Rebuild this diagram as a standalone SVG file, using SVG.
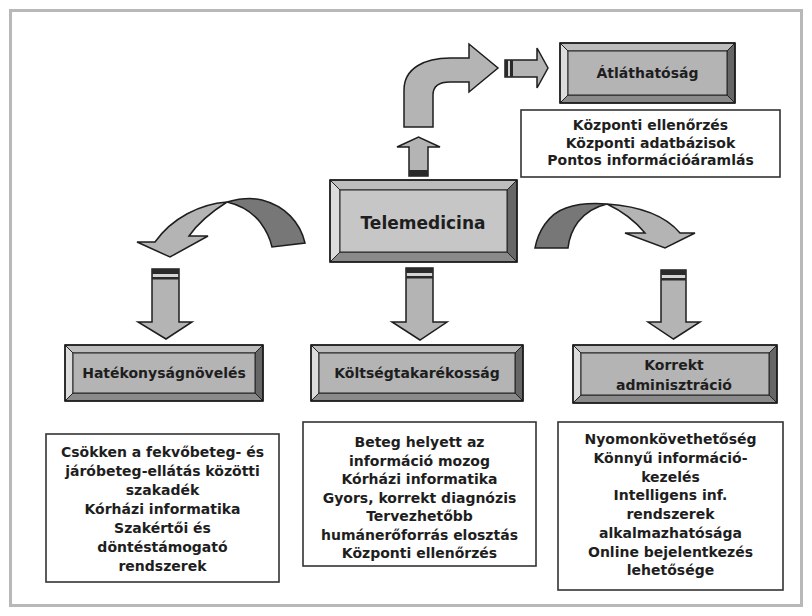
<svg xmlns="http://www.w3.org/2000/svg" width="812" height="616" viewBox="0 0 812 616">
<style>
.bt{fill:#bdbdbd;stroke:#222;stroke-width:1}
.bl{fill:#dcdcdc;stroke:#222;stroke-width:1}
.br{fill:#666;stroke:#222;stroke-width:1}
.bb{fill:#8a8a8a;stroke:#222;stroke-width:1}
.face{fill:#b4b4b4;stroke:#222;stroke-width:1}
.outer{fill:none;stroke:#1a1a1a;stroke-width:1.6}
.tb{fill:#fff;stroke:#333;stroke-width:1.6}
.arr{fill:#b4b4b4;stroke:#1e1e1e;stroke-width:1.5;stroke-linejoin:miter}
.dark{fill:#777;stroke:#1e1e1e;stroke-width:1.5}
.band{fill:#2a2a2a}
.lite{fill:#d4d4d4}
text{font-family:"DejaVu Sans",Verdana,sans-serif;font-weight:bold;fill:#1e1e1e;text-anchor:middle}
.t14{font-size:14px}
.t17{font-size:17px}
</style>
<rect x="10.5" y="10.5" width="791" height="595" fill="#fff" stroke="#b8b8b8" stroke-width="3"/>

<g id="connectors">
  <!-- up arrow from Telemedicina -->
  <path class="arr" d="M409,176 L409,147 L397,147 L418.5,137 L440,147 L428,147 L428,176 Z"/>
  <rect class="band" x="409" y="170" width="19" height="6"/>
  <!-- curved arrow up-right -->
  <path class="arr" d="M404,127 L404,90 C404,68 425,58 450,58 L469,58 L469,44 L498,68 L469,92 L469,82 L450,82 C440,82 433,86 433,95 L433,127 Z"/>
  <!-- small right arrow to Átláthatóság -->
  <path class="arr" d="M505,60 L537,60 L537,48 L548,68 L537,88 L537,77 L505,77 Z"/>
  <rect class="band" x="505" y="60" width="3" height="17"/>
  <rect class="lite" x="508" y="61" width="2" height="15"/>
  <rect class="band" x="510" y="60" width="3" height="17"/>

  <!-- left curved arrow -->
  <path class="dark" d="M305,243 C300,222 285,206 262,200 C250,197 238,199 227,202 C240,205 252,212 260,222 C266,230 270,238 272,247 Z"/>
  <path class="arr" d="M227,202 C200,204 172,218 155,242 L137,242 L170,257 L208,236 L189,236 C196,226 208,214 227,202 Z"/>

  <!-- right curved arrow -->
  <path class="dark" d="M535,248 C538,232 548,214 566,208 C580,203 594,203 607,204 C594,207 585,213 578,222 C572,230 569,239 568,248 Z"/>
  <path class="arr" d="M607,204 C636,206 664,214 680,233 L695,233 L665,248 L625,233 L645,233 C636,222 624,212 607,204 Z"/>

  <!-- left down arrow -->
  <path class="arr" d="M152,269 L179,269 L179,322 L192,322 L166,339 L138,322 L152,322 Z"/>
  <rect class="band" x="152" y="269" width="27" height="5"/>
  <rect class="lite" x="153" y="274" width="25" height="3"/>
  <rect class="band" x="152" y="277" width="27" height="2.5"/>

  <!-- center down arrow -->
  <path class="arr" d="M406,268 L433,268 L433,322 L447,322 L420,340 L392,322 L406,322 Z"/>
  <rect class="band" x="406" y="268" width="27" height="5"/>
  <rect class="lite" x="407" y="273" width="25" height="3"/>
  <rect class="band" x="406" y="276" width="27" height="2.5"/>

  <!-- right down arrow -->
  <path class="arr" d="M661,270 L686,270 L686,322 L700,322 L673.5,339 L648,322 L661,322 Z"/>
  <rect class="band" x="661" y="270" width="25" height="5"/>
  <rect class="lite" x="662" y="275" width="23" height="3"/>
  <rect class="band" x="661" y="278" width="25" height="2.5"/>
</g>

<g id="telemedicina">
  <polygon class="bt" points="330,180 517,180 507,190 340,190"/>
  <polygon class="bl" points="330,180 340,190 340,252 330,262"/>
  <polygon class="br" points="517,180 517,262 507,252 507,190"/>
  <polygon class="bb" points="330,262 517,262 507,252 340,252"/>
  <rect x="340" y="190" width="167" height="62" fill="#c6c6c6" stroke="#222" stroke-width="1"/>
  <rect class="outer" x="330" y="180" width="187" height="82"/>
  <text class="t17" x="423" y="229">Telemedicina</text>
</g>

<g id="atlathatosag">
  <polygon class="bt" points="560,43 735,43 727,51 568,51"/>
  <polygon class="bl" points="560,43 568,51 568,95 560,103"/>
  <polygon class="br" points="735,43 735,103 727,95 727,51"/>
  <polygon class="bb" points="560,103 735,103 727,95 568,95"/>
  <rect class="face" x="568" y="51" width="159" height="44"/>
  <rect class="outer" x="560" y="43" width="175" height="60"/>
  <text class="t14" x="647.5" y="78">Átláthatóság</text>
</g>

<g id="atlathatosag-info">
  <rect class="tb" x="521" y="110" width="259" height="67"/>
  <text class="t14" x="650.5" y="130">Központi ellenőrzés</text>
  <text class="t14" x="650.5" y="148">Központi adatbázisok</text>
  <text class="t14" x="650.5" y="165">Pontos információáramlás</text>
</g>

<g id="hatekonysag">
  <polygon class="bt" points="65,345 263,345 255,353 73,353"/>
  <polygon class="bl" points="65,345 73,353 73,393 65,401"/>
  <polygon class="br" points="263,345 263,401 255,393 255,353"/>
  <polygon class="bb" points="65,401 263,401 255,393 73,393"/>
  <rect class="face" x="73" y="353" width="182" height="40"/>
  <rect class="outer" x="65" y="345" width="198" height="56"/>
  <text class="t14" x="164" y="378">Hatékonyságnövelés</text>
</g>

<g id="koltseg">
  <polygon class="bt" points="311,345 523,345 515,353 319,353"/>
  <polygon class="bl" points="311,345 319,353 319,393 311,401"/>
  <polygon class="br" points="523,345 523,401 515,393 515,353"/>
  <polygon class="bb" points="311,401 523,401 515,393 319,393"/>
  <rect class="face" x="319" y="353" width="196" height="40"/>
  <rect class="outer" x="311" y="345" width="212" height="56"/>
  <text class="t14" x="417" y="378">Költségtakarékosság</text>
</g>

<g id="korrekt">
  <polygon class="bt" points="573,345 777,345 769,353 581,353"/>
  <polygon class="bl" points="573,345 581,353 581,395 573,403"/>
  <polygon class="br" points="777,345 777,403 769,395 769,353"/>
  <polygon class="bb" points="573,403 777,403 769,395 581,395"/>
  <rect class="face" x="581" y="353" width="188" height="42"/>
  <rect class="outer" x="573" y="345" width="204" height="58"/>
  <text class="t14" x="674" y="370">Korrekt</text>
  <text class="t14" x="674" y="390">adminisztráció</text>
</g>

<g id="hatekonysag-info">
  <rect class="tb" x="46" y="434" width="233" height="148"/>
  <text class="t14" x="162.5" y="457">Csökken a fekvőbeteg- és</text>
  <text class="t14" x="162.5" y="476">járóbeteg-ellátás közötti</text>
  <text class="t14" x="162.5" y="495">szakadék</text>
  <text class="t14" x="162.5" y="514">Kórházi informatika</text>
  <text class="t14" x="162.5" y="533">Szakértői és</text>
  <text class="t14" x="162.5" y="552">döntéstámogató</text>
  <text class="t14" x="162.5" y="571">rendszerek</text>
</g>

<g id="koltseg-info">
  <rect class="tb" x="303" y="422" width="233" height="144"/>
  <text class="t14" x="419.5" y="447">Beteg helyett az</text>
  <text class="t14" x="419.5" y="465.5">információ mozog</text>
  <text class="t14" x="419.5" y="484">Kórházi informatika</text>
  <text class="t14" x="419.5" y="502.5">Gyors, korrekt diagnózis</text>
  <text class="t14" x="419.5" y="521">Tervezhetőbb</text>
  <text class="t14" x="419.5" y="539.5">humánerőforrás elosztás</text>
  <text class="t14" x="419.5" y="558">Központi ellenőrzés</text>
</g>

<g id="korrekt-info">
  <rect class="tb" x="558" y="422" width="225" height="168"/>
  <text class="t14" x="670.5" y="444">Nyomonkövethetőség</text>
  <text class="t14" x="670.5" y="463">Könnyű információ-</text>
  <text class="t14" x="670.5" y="482">kezelés</text>
  <text class="t14" x="670.5" y="500">Intelligens inf.</text>
  <text class="t14" x="670.5" y="519">rendszerek</text>
  <text class="t14" x="670.5" y="538">alkalmazhatósága</text>
  <text class="t14" x="670.5" y="557">Online bejelentkezés</text>
  <text class="t14" x="670.5" y="575">lehetősége</text>
</g>
</svg>
